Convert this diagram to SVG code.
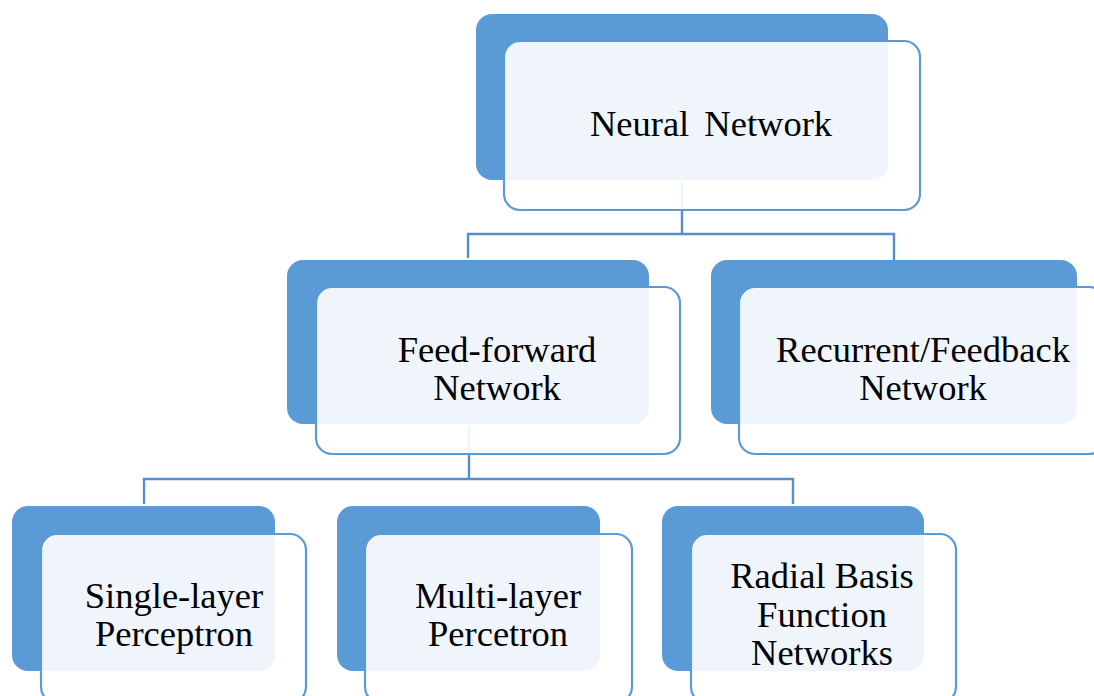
<svg xmlns="http://www.w3.org/2000/svg" width="1094" height="696" viewBox="0 0 1094 696">
<style>
.back{fill:#5B9BD5;}
.front{fill:#ffffff;fill-opacity:0.9;stroke:#5B9BD5;stroke-width:2.2;}
.conn{fill:none;stroke:#5590CC;stroke-width:2.4;}
.t{font-family:"Liberation Serif","Times New Roman",serif;font-size:36.5px;fill:#000;text-anchor:middle;}
</style>
<rect width="1094" height="696" fill="#ffffff"/>
<g id="connectors">
<path class="conn" d="M682,182 V234 M468,258 V234 H894 V260"/>
<path class="conn" d="M469,426 V479 M144,504 V479 H793 V504"/>
</g>
<g id="n-neural">
<rect class="back" x="476" y="14" width="412" height="166" rx="16"/>
<rect class="front" x="504" y="41" width="416" height="169" rx="16"/>
<text class="t" x="711" y="136" word-spacing="6">Neural Network</text>
</g>
<g id="n-feedforward">
<rect class="back" x="287" y="260" width="362" height="164" rx="16"/>
<rect class="front" x="316" y="287" width="364" height="167" rx="16"/>
<text class="t" x="497" y="362">Feed-forward</text>
<text class="t" x="497" y="400">Network</text>
</g>
<g id="n-recurrent">
<rect class="back" x="711" y="260" width="366" height="164" rx="16"/>
<rect class="front" x="739" y="287" width="366" height="167" rx="16"/>
<text class="t" x="923" y="362">Recurrent/Feedback</text>
<text class="t" x="923" y="400">Network</text>
</g>
<g id="n-single">
<rect class="back" x="12" y="506" width="263" height="165" rx="16"/>
<rect class="front" x="41" y="534" width="265" height="169" rx="16"/>
<text class="t" x="174" y="608">Single-layer</text>
<text class="t" x="174" y="646">Perceptron</text>
</g>
<g id="n-multi">
<rect class="back" x="337" y="506" width="263" height="165" rx="16"/>
<rect class="front" x="365" y="534" width="267" height="169" rx="16"/>
<text class="t" x="498" y="608">Multi-layer</text>
<text class="t" x="498" y="646">Percetron</text>
</g>
<g id="n-radial">
<rect class="back" x="662" y="506" width="262" height="165" rx="16"/>
<rect class="front" x="691" y="534" width="265" height="169" rx="16"/>
<text class="t" x="822" y="588">Radial Basis</text>
<text class="t" x="822" y="627">Function</text>
<text class="t" x="822" y="665">Networks</text>
</g>
</svg>
